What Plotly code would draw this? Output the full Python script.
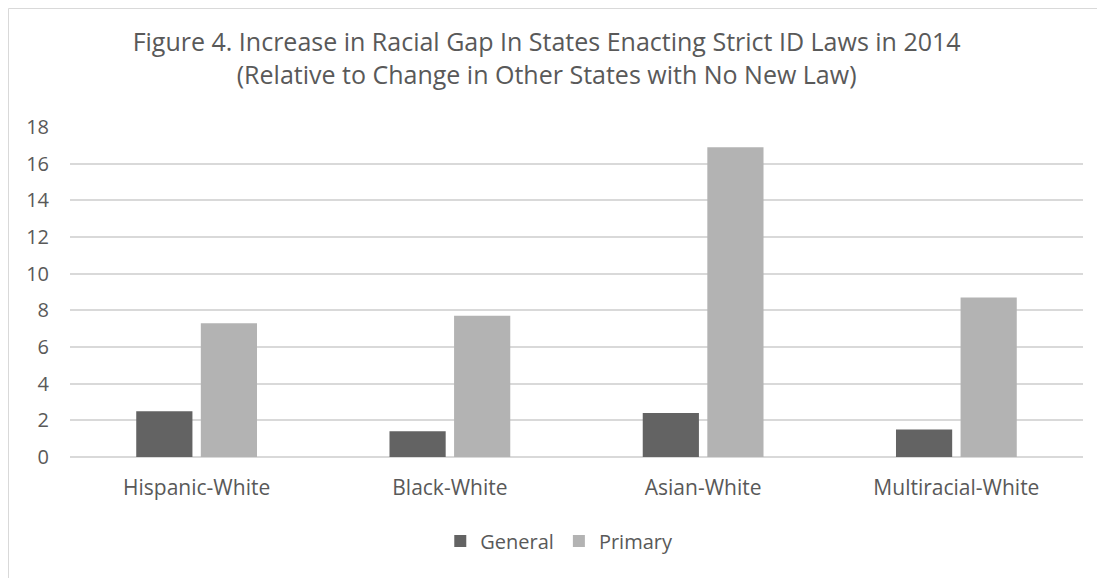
import plotly.graph_objects as go

categories = ["Hispanic-White", "Black-White", "Asian-White", "Multiracial-White"]
general = [2.5, 1.4, 2.4, 1.5]
primary = [7.3, 7.7, 16.9, 8.7]
y_ticks = [0, 2, 4, 6, 8, 10, 12, 14, 16, 18]

FONT = "Open Sans"
TXT = "#595959"

fig = go.Figure()
fig.add_trace(go.Bar(name="General", x=categories, y=general, marker=dict(color="#636363", line=dict(width=0))))
fig.add_trace(go.Bar(name="Primary", x=categories, y=primary, marker=dict(color="#b3b3b3", line=dict(width=0))))

W, H = 1097, 570
L, R, T, B = 62, 22, 119, 121
PW, PH = W - L - R, H - T - B

fig.update_layout(
    width=W, height=H,
    paper_bgcolor="white", plot_bgcolor="white",
    margin=dict(l=L, r=R, t=T, b=B, autoexpand=False),
    barmode="group", bargap=0.49, bargroupgap=0.13,
    title=dict(
        text="Figure 4. Increase in Racial Gap In States Enacting Strict ID Laws in 2014<br>(Relative to Change in Other States with No New Law)",
        x=0.491, xanchor="center", y=1 - 43 / H, yanchor="top",
        font=dict(family=FONT, size=25, color=TXT),
    ),
    font=dict(family=FONT, size=21, color=TXT),
    legend=dict(orientation="h", x=0.483, xanchor="center", y=-84 / PH, yanchor="middle",
                font=dict(size=20, color=TXT), traceorder="normal", itemwidth=30),
    yaxis=dict(range=[0, 18], tickvals=y_ticks, gridcolor="#d9d9d9", gridwidth=1.5,
               zeroline=True, zerolinecolor="#d9d9d9", zerolinewidth=2,
               ticks="", showline=False, ticklabelstandoff=20,
               tickfont=dict(size=20, color=TXT)),
    xaxis=dict(showline=False, ticks="", ticklabelstandoff=16,
               tickfont=dict(size=21, color=TXT)),
    shapes=[dict(type="rect", xref="paper", yref="paper",
                 x0=-(L - 0.5) / PW, x1=1.2, y0=-1.0, y1=1 + (T - 0.5) / PH,
                 line=dict(color="#d9d9d9", width=1), fillcolor="rgba(0,0,0,0)", layer="below")],
)

fig.write_html("out.html")
